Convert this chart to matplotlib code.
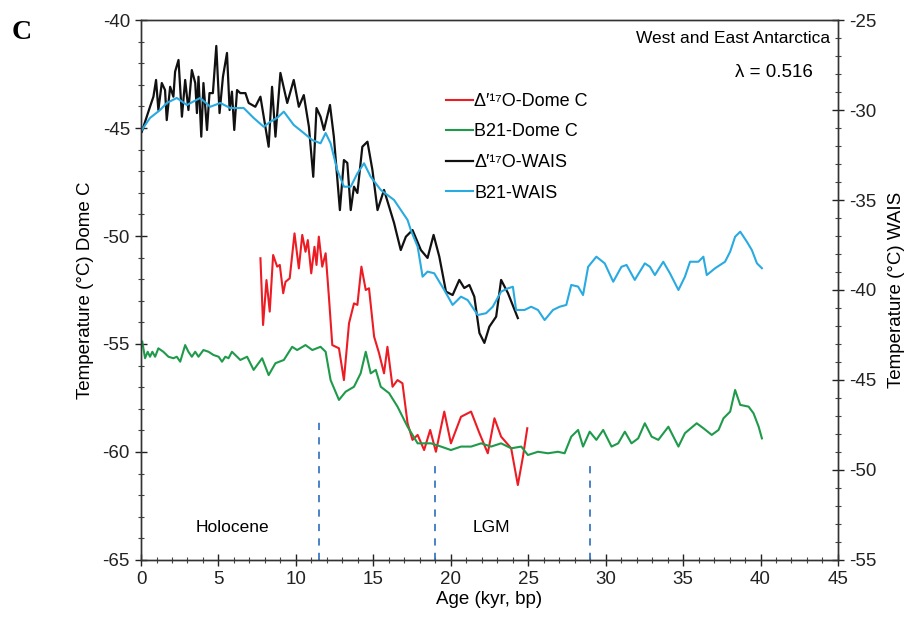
import numpy as np
import matplotlib
matplotlib.use("Agg")
import matplotlib.pyplot as plt
from matplotlib.ticker import MultipleLocator

plt.rcParams['font.family'] = ['Liberation Sans', 'DejaVu Sans']
plt.rcParams['axes.unicode_minus'] = False

# Delta'17O - Dome C (left axis)
red_age = [7.71, 7.88, 8.10, 8.31, 8.53, 8.79, 8.96, 9.18, 9.33, 9.60, 9.91, 10.19, 10.41, 10.62,
           10.77, 10.99, 11.20, 11.33, 11.48, 11.70, 11.92, 12.13, 12.35, 12.78, 13.10, 13.43,
           13.75, 13.97, 14.23, 14.51, 14.72, 15.05, 15.37, 15.69, 15.91, 16.24, 16.56, 16.88,
           17.21, 17.53, 17.86, 18.28, 18.67, 19.04, 19.58, 20.01, 20.66, 21.31, 21.85, 22.39,
           22.82, 23.25, 23.90, 24.33, 24.66, 24.94]
red_temp = [-51.03, -54.12, -52.04, -53.50, -50.88, -51.42, -51.34, -52.65, -52.12, -51.96, -49.88,
            -51.50, -49.95, -50.73, -50.19, -51.73, -50.50, -51.34, -50.03, -51.42, -50.80, -52.81,
            -55.05, -55.20, -56.67, -54.04, -53.12, -53.19, -51.42, -52.50, -52.42, -54.66, -55.43,
            -56.36, -55.13, -56.98, -56.67, -56.82, -58.67, -59.44, -59.21, -59.91, -58.98, -59.99,
            -58.13, -59.60, -58.37, -58.13, -59.13, -60.06, -58.44, -59.29, -59.83, -61.53, -60.22,
            -58.90]

# B21 - Dome C (left axis)
green_age = [0.08, 0.26, 0.43, 0.58, 0.73, 0.91, 1.12, 1.44, 1.77, 2.09, 2.31, 2.53, 2.85, 3.06,
             3.28, 3.50, 3.71, 4.03, 4.36, 4.68, 5.01, 5.23, 5.44, 5.65, 5.87, 6.20, 6.41, 6.85,
             7.27, 7.82, 8.24, 8.68, 9.22, 9.76, 10.08, 10.62, 11.06, 11.59, 11.92, 12.24, 12.78,
             13.21, 13.75, 14.18, 14.51, 14.83, 15.16, 15.48, 16.02, 16.56, 17.21, 17.86, 18.72,
             19.37, 20.01, 20.66, 21.31, 21.96, 22.60, 23.25, 23.90, 24.55, 24.98, 25.63, 26.28,
             26.92, 27.35, 27.78, 28.22, 28.54, 28.97, 29.40, 29.84, 30.38, 30.81, 31.24, 31.67,
             32.10, 32.53, 32.97, 33.40, 34.05, 34.70, 35.12, 35.88, 36.31, 36.85, 37.29, 37.61,
             38.04, 38.36, 38.69, 39.23, 39.55, 39.88, 40.09]
green_temp = [-54.89, -55.66, -55.36, -55.59, -55.36, -55.59, -55.20, -55.36, -55.59, -55.66, -55.59,
              -55.82, -55.05, -55.36, -55.59, -55.36, -55.59, -55.28, -55.36, -55.51, -55.59, -55.82,
              -55.59, -55.66, -55.36, -55.59, -55.74, -55.59, -56.20, -55.66, -56.44, -55.89, -55.74,
              -55.13, -55.28, -55.05, -55.28, -55.13, -55.36, -56.67, -57.59, -57.21, -56.98, -56.36,
              -55.36, -56.36, -56.20, -56.98, -57.28, -57.90, -58.83, -59.60, -59.60, -59.75, -59.91,
              -59.75, -59.75, -59.60, -59.75, -59.60, -59.83, -59.75, -60.14, -59.99, -60.06, -59.99,
              -60.06, -59.29, -58.98, -59.75, -59.06, -59.44, -58.98, -59.75, -59.60, -59.06, -59.60,
              -59.37, -58.67, -59.29, -59.44, -58.83, -59.75, -59.13, -58.67, -58.90, -59.21, -58.98,
              -58.44, -58.13, -57.13, -57.82, -57.90, -58.21, -58.83, -59.37]

# Delta'17O - WAIS (right axis)
black_age = [0.05, 0.37, 0.58, 0.80, 0.97, 1.12, 1.34, 1.55, 1.66, 1.88, 2.09, 2.20, 2.42, 2.64,
             2.85, 3.06, 3.28, 3.50, 3.61, 3.71, 3.89, 4.03, 4.26, 4.42, 4.64, 4.86, 5.07, 5.29,
             5.55, 5.72, 5.87, 6.02, 6.20, 6.41, 6.74, 6.95, 7.38, 7.71, 8.24, 8.46, 8.68, 9.00,
             9.44, 9.86, 10.19, 10.51, 10.84, 11.12, 11.33, 11.59, 11.81, 12.20, 12.45, 12.84,
             13.10, 13.32, 13.54, 13.75, 13.97, 14.29, 14.62, 14.94, 15.27, 15.69, 16.34, 16.45,
             16.77, 17.10, 17.53, 18.07, 18.50, 18.89, 19.26, 19.69, 20.12, 20.55, 20.87, 21.20,
             21.52, 21.85, 22.17, 22.49, 22.93, 23.25, 23.69, 24.33]
black_temp = [-31.21, -30.37, -29.82, -29.26, -28.33, -30.00, -28.50, -28.89, -30.56, -28.71, -29.26,
              -27.87, -27.22, -30.37, -28.33, -30.00, -27.78, -28.50, -30.17, -28.15, -31.48, -28.50,
              -31.11, -29.06, -29.06, -26.44, -30.17, -28.15, -26.83, -30.00, -28.98, -31.11, -28.89,
              -29.06, -29.06, -29.61, -29.82, -29.26, -32.04, -28.71, -31.48, -27.94, -29.61, -28.33,
              -29.82, -29.17, -30.93, -33.71, -29.89, -30.37, -31.11, -29.72, -31.48, -35.56, -32.78,
              -32.94, -35.56, -34.26, -34.61, -32.04, -31.76, -33.33, -35.56, -34.44, -36.28, -36.67,
              -37.78, -37.04, -36.67, -37.78, -38.22, -36.94, -38.15, -40.09, -40.28, -39.44, -39.89,
              -39.72, -40.37, -42.39, -42.94, -42.04, -41.48, -39.44, -40.17, -41.56]

# B21 - WAIS (right axis)
blue_age = [0.05, 0.58, 1.23, 1.66, 2.31, 2.96, 3.82, 4.47, 5.12, 5.76, 6.63, 7.27, 7.92, 8.35,
            8.79, 9.22, 9.86, 10.51, 11.06, 11.59, 11.92, 12.24, 12.67, 13.10, 13.54, 13.97, 14.40,
            14.83, 15.48, 16.34, 17.21, 17.42, 17.86, 18.18, 18.50, 18.93, 19.58, 20.12, 20.66,
            21.09, 21.74, 22.28, 22.71, 23.25, 23.69, 24.01, 24.22, 24.76, 25.19, 25.63, 26.06,
            26.60, 27.03, 27.46, 27.78, 28.22, 28.54, 28.87, 29.40, 29.94, 30.49, 31.02, 31.35,
            31.88, 32.53, 32.86, 33.18, 33.72, 34.15, 34.70, 35.12, 35.45, 35.99, 36.31, 36.53,
            37.07, 37.71, 38.04, 38.36, 38.69, 39.12, 39.44, 39.77, 40.09]
blue_temp = [-31.11, -30.44, -30.00, -29.61, -29.33, -29.72, -29.33, -29.82, -29.61, -29.89, -29.89,
             -30.44, -30.93, -30.65, -30.44, -30.09, -30.83, -31.28, -31.67, -31.85, -31.28, -31.85,
             -33.33, -34.26, -34.26, -33.52, -32.96, -33.71, -34.44, -35.00, -36.11, -36.67, -37.59,
             -39.26, -38.98, -39.07, -40.00, -40.83, -40.37, -40.56, -41.39, -41.29, -40.93, -40.09,
             -39.91, -39.82, -41.11, -41.11, -40.93, -41.11, -41.67, -41.11, -40.93, -40.83, -39.72,
             -39.81, -40.28, -38.71, -38.15, -38.52, -39.54, -38.71, -38.61, -39.44, -38.52, -38.71,
             -39.17, -38.43, -39.07, -40.00, -39.26, -38.43, -38.43, -38.15, -39.17, -38.79, -38.43,
             -37.87, -37.04, -36.76, -37.32, -37.78, -38.52, -38.79]

# period boundaries (kyr) and how high the dashed marks reach (Dome C scale)
bound_age = [11.5, 19.0, 29.0]
bound_top = [-58.6, -60.4, -60.4]


def style_axis(a):
    a.tick_params(which='major', direction='inout', length=9, width=1, labelsize=13.5, colors='#222222')
    a.tick_params(which='minor', direction='inout', length=5, width=0.8, colors='#444444')
    for s in a.spines.values():
        s.set_color('#333333')
        s.set_linewidth(1.0)


fig = plt.figure(figsize=(9.14, 6.18), dpi=100)
ax = fig.add_axes([0.1543, 0.0939, 0.7625, 0.8737])
ax2 = ax.twinx()

# Dome C series
l1, = ax.plot(red_age, red_temp, color='#ed1c24', lw=1.5, label='Δ′¹⁷O-Dome C')
l2, = ax.plot(green_age, green_temp, color='#1f9a4a', lw=1.5, label='B21-Dome C')

# WAIS series
l3, = ax2.plot(black_age, black_temp, color='#111111', lw=1.6, label='Δ′¹⁷O-WAIS')
l4, = ax2.plot(blue_age, blue_temp, color='#29aae1', lw=1.5, label='B21-WAIS')

# dashed boundaries
ax.vlines(bound_age, -65, bound_top, colors='#3b78c4', linestyles=(0, (4, 4)), lw=1.3)

ax.set_xlim(0, 45)
ax.set_ylim(-65, -40)
ax2.set_ylim(-55, -25)

ax.xaxis.set_major_locator(MultipleLocator(5))
ax.xaxis.set_minor_locator(MultipleLocator(1))
ax.yaxis.set_major_locator(MultipleLocator(5))
ax.yaxis.set_minor_locator(MultipleLocator(1))
ax2.yaxis.set_major_locator(MultipleLocator(5))
ax2.yaxis.set_minor_locator(MultipleLocator(1))

style_axis(ax)
style_axis(ax2)

ax.set_xlabel('Age (kyr, bp)', fontsize=13.5, labelpad=2)
ax.set_ylabel('Temperature (°C) Dome C', fontsize=13.5, labelpad=6)
ax2.set_ylabel('Temperature (°C) WAIS', fontsize=13.5, labelpad=8)

# texts inside the plot
ax.text(5.9, -63.5, 'Holocene', fontsize=12.5, ha='center', va='center')
ax.text(22.6, -63.5, 'LGM', fontsize=12.5, ha='center', va='center')
ax.text(0.9885, 0.965, 'West and East Antarctica', transform=ax.transAxes,
        fontsize=12.5, ha='right', va='center')
ax.text(0.964, 0.902, 'λ = 0.516', transform=ax.transAxes,
        fontsize=13.5, ha='right', va='center')

ax2.legend(handles=[l1, l2, l3, l4], loc='upper left', bbox_to_anchor=(0.437, 0.865),
           frameon=False, fontsize=13, handlelength=1.5, handletextpad=0.1,
           labelspacing=0.75, borderaxespad=0, borderpad=0)

fig.text(0.024, 0.947, 'C', fontfamily='Liberation Serif', fontweight='bold',
         fontsize=20, ha='center', va='center')

fig.savefig('out.png', dpi=100)
